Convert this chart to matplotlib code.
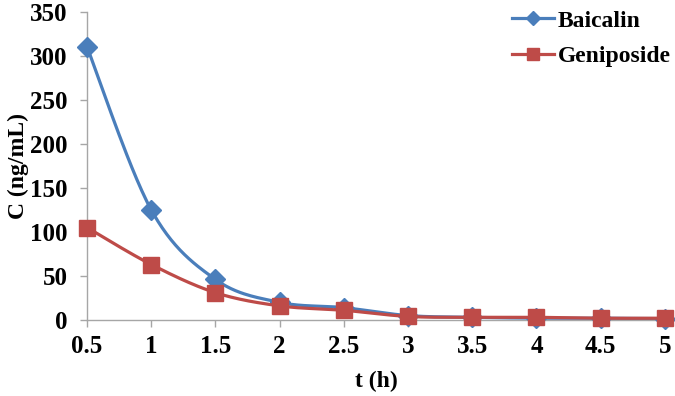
import matplotlib
matplotlib.use("Agg")
import matplotlib.pyplot as plt
import numpy as np

# data
t_hours = [0.5, 1, 1.5, 2, 2.5, 3, 3.5, 4, 4.5, 5]
baicalin = [310, 125, 46, 20, 14, 5, 3, 2, 2, 1.5]
geniposide = [105, 63, 31, 16, 11, 4, 3, 3, 2, 2]
x_ticks = [0.5, 1, 1.5, 2, 2.5, 3, 3.5, 4, 4.5, 5]
x_tick_labels = ["0.5", "1", "1.5", "2", "2.5", "3", "3.5", "4", "4.5", "5"]
y_ticks = [0, 50, 100, 150, 200, 250, 300, 350]

BLUE = "#4a7ebb"
RED = "#be4b48"
GREY = "#a6a6a6"

plt.rcParams["font.family"] = ["Liberation Serif", "DejaVu Serif"]
plt.rcParams["font.weight"] = "bold"


def smooth(xs, ys, n=30, tension=0.5):
    """Cardinal spline through the points, like Excel's smoothed line."""
    xs = np.asarray(xs, float)
    ys = np.asarray(ys, float)
    px = np.concatenate([[xs[0]], xs, [xs[-1]]])
    py = np.concatenate([[ys[0]], ys, [ys[-1]]])
    out_x, out_y = [], []
    s = np.linspace(0, 1, n)
    for i in range(1, len(px) - 2):
        m0x = tension * (px[i + 1] - px[i - 1])
        m0y = tension * (py[i + 1] - py[i - 1])
        m1x = tension * (px[i + 2] - px[i])
        m1y = tension * (py[i + 2] - py[i])
        h00 = 2 * s**3 - 3 * s**2 + 1
        h10 = s**3 - 2 * s**2 + s
        h01 = -2 * s**3 + 3 * s**2
        h11 = s**3 - s**2
        out_x.append(h00 * px[i] + h10 * m0x + h01 * px[i + 1] + h11 * m1x)
        out_y.append(h00 * py[i] + h10 * m0y + h01 * py[i + 1] + h11 * m1y)
    return np.concatenate(out_x), np.concatenate(out_y)


fig = plt.figure(figsize=(6.75, 3.96), dpi=100)
ax = fig.add_axes([0.129, 0.192, 0.856, 0.778])

bx, by = smooth(t_hours, baicalin)
gx, gy = smooth(t_hours, geniposide)
ax.plot(bx, by, color=BLUE, lw=2.3, zorder=2, clip_on=False)
ax.plot(t_hours, baicalin, ls="none", marker="D", ms=10, color=BLUE, zorder=3, clip_on=False)
ax.plot(gx, gy, color=RED, lw=2.3, zorder=4, clip_on=False)
ax.plot(t_hours, geniposide, ls="none", marker="s", ms=12, color=RED, zorder=5, clip_on=False)

ax.set_xlim(0.5, 5)
ax.set_ylim(0, 350)
ax.set_xticks(x_ticks)
ax.set_xticklabels(x_tick_labels)
ax.set_yticks(y_ticks)
ax.tick_params(labelsize=18, color=GREY, length=5, width=1, direction="out")
ax.tick_params(axis="x", pad=6)
ax.tick_params(axis="y", pad=9)
for side in ("top", "right"):
    ax.spines[side].set_visible(False)
for side in ("left", "bottom"):
    ax.spines[side].set_color(GREY)
    ax.spines[side].set_linewidth(1)
for lab in ax.get_xticklabels() + ax.get_yticklabels():
    lab.set_fontweight("bold")

ax.set_xlabel("t (h)", fontsize=17, fontweight="bold", labelpad=9)
ax.set_ylabel("C (ng/mL)", fontsize=17, fontweight="bold")
ax.yaxis.set_label_coords(-0.100, 0.5)

h1, = ax.plot([], [], color=BLUE, lw=2.3, marker="D", ms=7)
h2, = ax.plot([], [], color=RED, lw=2.3, marker="s", ms=8)
leg = fig.legend([h1, h2], ["Baicalin", "Geniposide"], loc="upper right",
                 bbox_to_anchor=(1.025, 1.028), frameon=False, fontsize=17,
                 handlelength=1.8, handletextpad=0.15, labelspacing=0.6)
for txt in leg.get_texts():
    txt.set_fontweight("bold")

fig.savefig("out.png", dpi=100)
